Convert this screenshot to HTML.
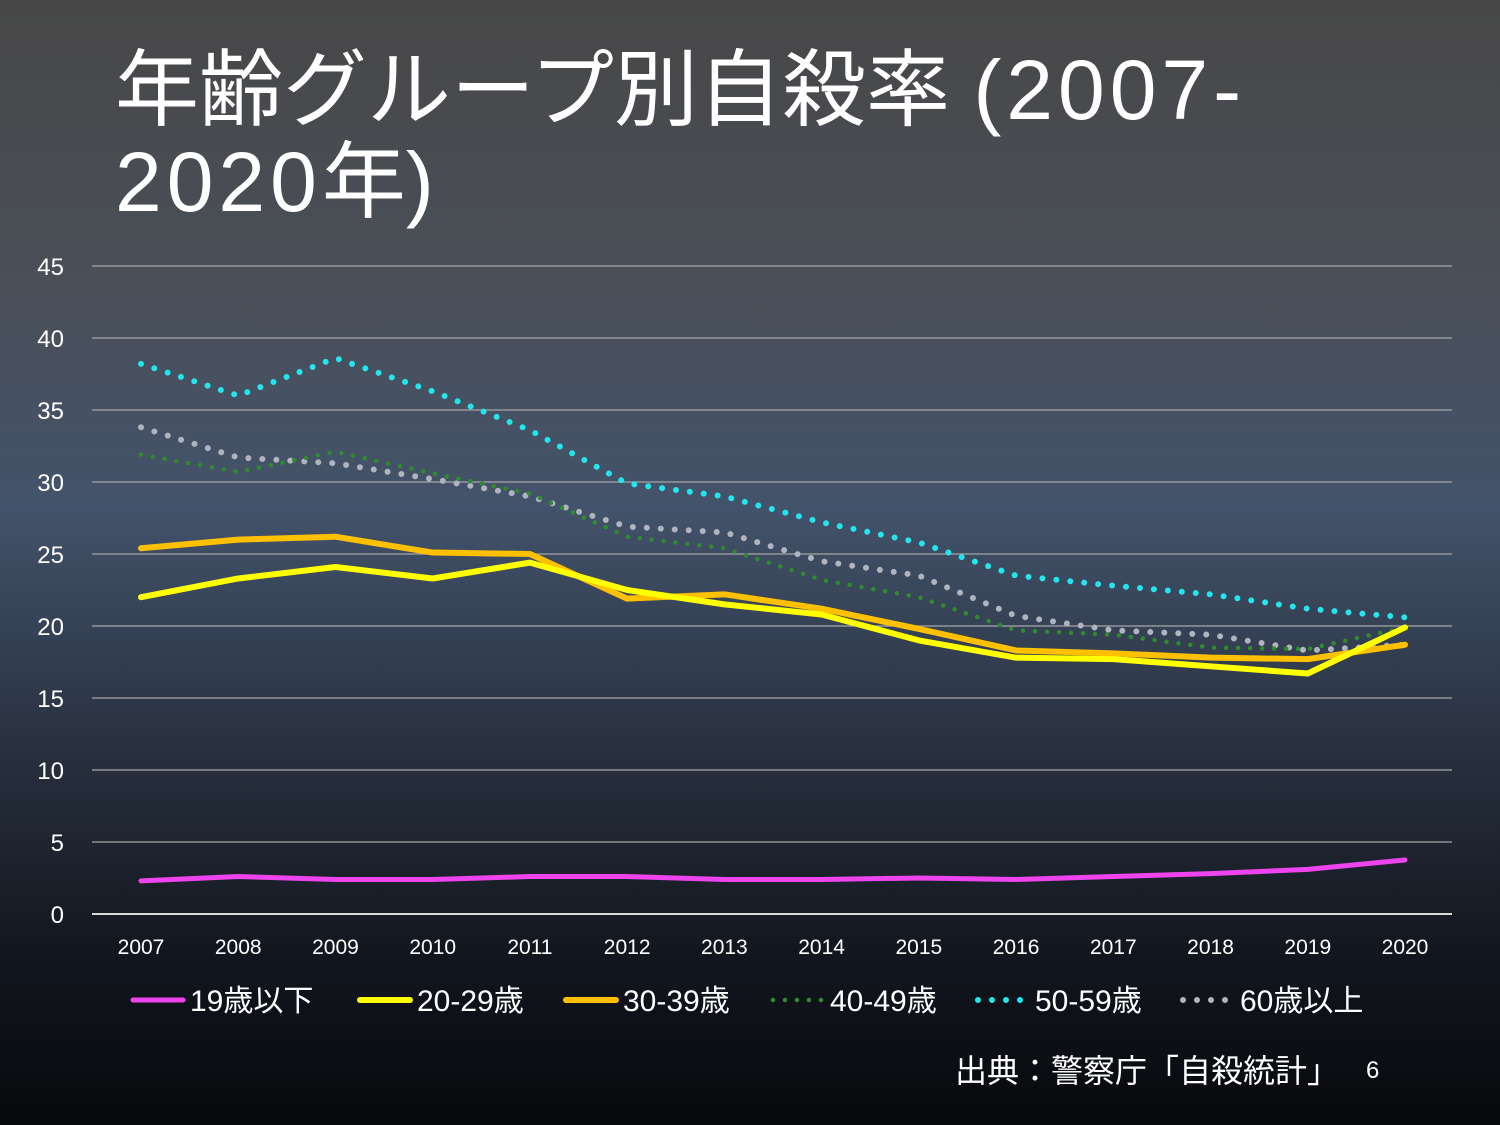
<!DOCTYPE html>
<html><head><meta charset="utf-8">
<style>
html,body{margin:0;padding:0;}
body{width:1500px;height:1125px;overflow:hidden;background:linear-gradient(180deg,#474747 0%,#4a4f58 25%,#43536b 45%,#2a3342 65%,#12161e 85%,#07090c 100%);font-family:"Liberation Sans","Noto Sans CJK JP",sans-serif;color:#fff;position:relative;}
#title{position:absolute;left:115px;top:44px;font-size:84px;line-height:92px;font-family:"Liberation Sans","Noto Sans CJK JP",sans-serif;font-weight:normal;margin:0;white-space:nowrap;}
#title .l{letter-spacing:5px;}
#source{position:absolute;left:955px;top:1046px;font-size:32px;font-family:"Noto Sans CJK JP",sans-serif;}
#page{position:absolute;left:1366px;top:1057px;font-size:24px;}
svg{position:absolute;left:0;top:0;}
</style></head><body>
<h1 id="title">年齢グループ別自殺率 <span class="l">(2007-</span><br><span class="l">2020</span>年<span class="l">)</span></h1>
<svg id="chart" width="1500" height="1125"></svg>
<div id="source">出典：警察庁「自殺統計」</div>
<div id="page">6</div>
<script>
const years=[2007,2008,2009,2010,2011,2012,2013,2014,2015,2016,2017,2018,2019,2020];
const yTicks=[0,5,10,15,20,25,30,35,40,45];
const s19=[2.3,2.6,2.4,2.4,2.6,2.6,2.4,2.4,2.5,2.4,2.6,2.8,3.1,3.75];
const s20=[22.0,23.3,24.1,23.3,24.4,22.5,21.5,20.8,19.0,17.8,17.7,17.2,16.7,19.9];
const s30=[25.4,26.0,26.2,25.1,25.0,21.9,22.2,21.2,19.8,18.3,18.1,17.8,17.7,18.7];
const s40=[31.9,30.7,32.1,30.6,29.2,26.2,25.4,23.2,22.0,19.7,19.4,18.5,18.4,19.9];
const s50=[38.2,36.0,38.6,36.3,33.6,29.9,29.0,27.2,25.8,23.5,22.8,22.2,21.2,20.6];
const s60=[33.8,31.7,31.3,30.2,29.0,26.9,26.5,24.5,23.5,20.7,19.7,19.4,18.3,18.7];
const seriesNames=["19歳以下","20-29歳","30-39歳","40-49歳","50-59歳","60歳以上"];
const NS="http://www.w3.org/2000/svg";
const svg=document.getElementById('chart');
const x=i=>141+i*(1405-141)/13;
const y=v=>914-v*(914-266)/45;
function mk(t,a){const e=document.createElementNS(NS,t);for(const k in a)e.setAttribute(k,a[k]);svg.appendChild(e);return e;}
yTicks.forEach(t=>{
  const l=mk('line',{x1:92,x2:1452,y1:y(t),y2:y(t),stroke:t===0?'#d9d9d9':'#a6a6a6','stroke-width':t===0?2:1.3});
  
  
  const tx=mk('text',{x:64,y:y(t)+9,'text-anchor':'end','font-size':24,fill:'#fff'});
  tx.textContent=t;
  
  
});
years.forEach((yr,i)=>{
  const tx=mk('text',{x:x(i),y:954,'text-anchor':'middle','font-size':21,fill:'#fff'});
  tx.textContent=yr;
  
  
});
const styles=[
 {d:s19,c:'#ee44ee',w:5,dash:null},
 {d:s20,c:'#ffff00',w:6,dash:null},
 {d:s30,c:'#ffc000',w:6,dash:null},
 {d:s40,c:'#2e8b2e',w:4.5,dash:'0 12'},
 {d:s50,c:'#22e6ee',w:6,dash:'0 14'},
 {d:s60,c:'#b0b4bf',w:6,dash:'0 14'}
];
const drawOrder=[5,4,3,0,2,1];
drawOrder.forEach(k=>{
  const st=styles[k];
  const pts=st.d.map((v,i)=>x(i)+','+y(v)).join(' ');
  const a={points:pts,fill:'none',stroke:st.c,'stroke-width':st.w,'stroke-linecap':'round','stroke-linejoin':'round'};
  if(st.dash)a['stroke-dasharray']=st.dash;
  const p=mk('polyline',a);
  
  
});
const legX=[133,360,566,773,978,1183];
styles.forEach((st,k)=>{
  const a={x1:legX[k],x2:legX[k]+50,y1:1000,y2:1000,stroke:st.c,'stroke-width':st.w,'stroke-linecap':'round'};
  if(st.dash)a['stroke-dasharray']=st.dash;
  const l=mk('line',a);
  
  
  const tx=mk('text',{x:legX[k]+57,y:1011,'font-size':30,fill:'#fff','font-family':'Liberation Sans, Noto Sans CJK JP, sans-serif'});
  tx.textContent=seriesNames[k];
  
  
});
</script>
</body></html>
